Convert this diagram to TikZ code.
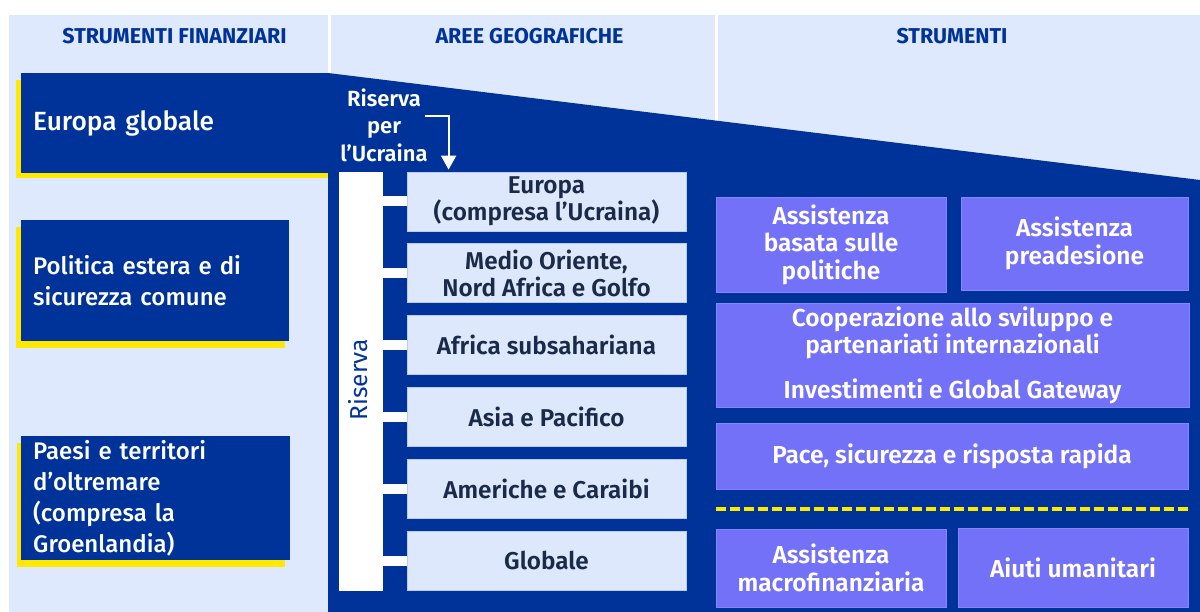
\documentclass[tikz,border=0pt]{standalone}
\usepackage{fontspec}
\setmainfont{Fira Sans}
\newfontfamily\firamed{Fira Sans Medium}
\newfontfamily\firasemi{Fira Sans SemiBold}
\usetikzlibrary{arrows.meta,calc}
\definecolor{eublue}{HTML}{003399}
\definecolor{panel}{HTML}{DFE9FD}
\definecolor{geofill}{HTML}{DDE8FC}
\definecolor{geoline}{HTML}{B9CCF0}
\definecolor{violetbox}{HTML}{7471F9}
\definecolor{violetline}{HTML}{8684FF}
\definecolor{euyellow}{HTML}{FFE900}
\definecolor{navytext}{HTML}{1B2A48}
\tikzset{
  head/.style={text=eublue, font=\bfseries\fontsize{21.5}{24}\selectfont, inner sep=0},
  fin/.style={fill=eublue, text=white, align=left, anchor=north west, inner xsep=12pt, inner ysep=0pt,
    font=\firamed\fontsize{24}{31}\selectfont},
  geo/.style={fill=geofill, draw=geoline, line width=0.8pt, text=navytext, align=center,
    minimum width=279pt, minimum height=59pt, inner sep=0pt, font=\firasemi\fontsize{24.3}{27}\selectfont},
  tool/.style={fill=violetbox, draw=violetline, line width=0.8pt, text=white, align=center,
    inner sep=0pt, font=\firasemi\fontsize{24.5}{27.5}\selectfont},
  stub/.style={white, line width=10pt},
  yshadow/.style={fill=euyellow}
}
\begin{document}
\begin{tikzpicture}[x=1pt,y=-1pt]
\useasboundingbox (0,0) rectangle (1200,612);
\fill[white] (0,0) rectangle (1200,612);
% column panels
\fill[panel] (9,15) rectangle (328,612);
\fill[panel] (331,15) rectangle (715,612);
\fill[panel] (718,15) rectangle (1200,612);
\node[head] (h1) at (174.5,36) {STRUMENTI FINANZIARI};
\node[head] (h2) at (529.5,36) {AREE GEOGRAFICHE};
\node[head] (h3) at (952,36) {STRUMENTI};
% dark blue area
\fill[eublue] (328,73) -- (1200,180) -- (1200,612) -- (328,612) -- cycle;
% financial instruments
\fill[yshadow] (16,80) rectangle (328,178);
\node[fin, text width=283pt, minimum height=100pt, font=\firamed\fontsize{26.3}{31}\selectfont] (eg) at (21,73) {Europa globale};
\fill[yshadow] (16,227) rectangle (285,348);
\node[fin, text width=244pt, minimum height=121pt] (pesc) at (21,220) {Politica estera e di\\sicurezza comune};
\fill[yshadow] (17,443) rectangle (285,567);
\node[fin, text width=245pt, minimum height=124pt] (ptom) at (21,436) {Paesi e territori\\d’oltremare\\(compresa la\\Groenlandia)};
% reserve
\node[fill=white, minimum width=44pt, minimum height=419pt, inner sep=0pt] (riserva) at (361,381.5) {};
\node[rotate=90, text=eublue, font=\fontsize{24.5}{26}\selectfont, inner sep=0pt] (rtext) at (358,380) {Riserva};
\node[text=white, align=center, font=\firasemi\fontsize{22}{27.5}\selectfont, inner sep=0pt] (ukl) at (384,125) {Riserva\\per\\l’Ucraina};
% geographic areas
\node[geo] (g1) at (546.5,201.5) {Europa\\(compresa l’Ucraina)};
\node[geo] (g2) at (546.5,273) {Medio Oriente,\\Nord Africa e Golfo};
\node[geo] (g3) at (546.5,345) {Africa subsahariana};
\node[geo] (g4) at (546.5,416.5) {Asia e Pacifico};
\node[geo] (g5) at (546.5,488.5) {Americhe e Caraibi};
\node[geo] (g6) at (546.5,560.5) {Globale};
\foreach \g in {g1,g2,g3,g4,g5,g6}
  \draw[stub] (riserva.east |- \g.west) -- (\g.west);
\coordinate (ukstart) at (425,116);
\draw[white, line width=2pt, -{Triangle[width=15pt,length=14pt]}] (ukstart) -| ([xshift=42pt,yshift=2pt]g1.north west);
% instruments
\node[tool, minimum width=230pt, minimum height=95pt] (abp) at (831,244.5) {Assistenza\\basata sulle\\politiche};
\node[tool, minimum width=227pt, minimum height=93pt] (pre) at (1074.5,243.5) {Assistenza\\preadesione};
\node[tool, minimum width=473pt, minimum height=104pt] (coop) at (952.5,355) {Cooperazione allo sviluppo e\\partenariati internazionali\\[17pt]Investimenti e Global Gateway};
\node[tool, minimum width=472pt, minimum height=66pt] (pace) at (952,456) {Pace, sicurezza e risposta rapida};
\coordinate (dA) at (716,509);
\coordinate (dB) at (1188,509);
\draw[euyellow, line width=3.3pt, dash pattern=on 10pt off 4pt] (dA) -- (dB);
\node[tool, minimum width=230pt, minimum height=78pt] (mfa) at (831,568) {Assistenza\\macrofinanziaria};
\node[tool, minimum width=230pt, minimum height=79pt] (hum) at (1073,567.5) {Aiuti umanitari};
\end{tikzpicture}
\end{document}
